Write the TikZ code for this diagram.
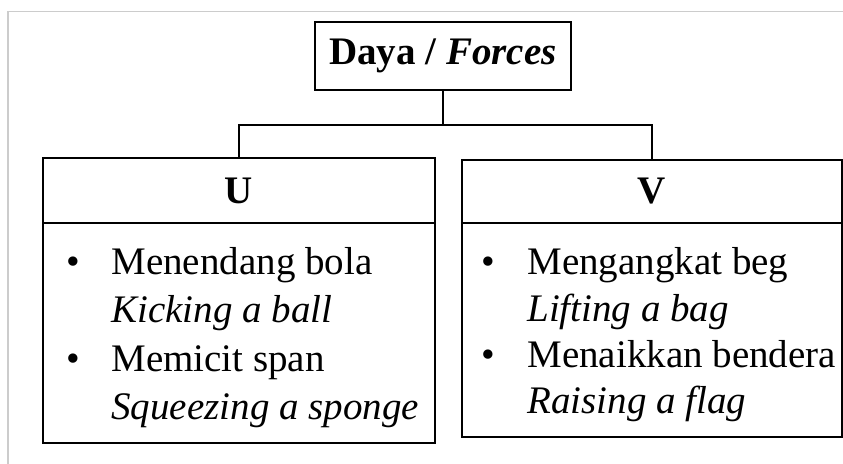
\documentclass[tikz,border=0pt]{standalone}
\usepackage{fontspec}
\setmainfont{Liberation Serif}
\usetikzlibrary{positioning}

\tikzset{
  box/.style={draw, line width=1pt, outer sep=0pt, inner sep=0pt},
  item/.style={anchor=base west, inner sep=0pt},
  dot/.style={anchor=base, inner sep=0pt},
  link/.style={line width=0.75pt}
}

\begin{document}
\begin{tikzpicture}[x=0.5pt,y=-0.5pt]
      \fontsize{19.5}{23}\selectfont
      \useasboundingbox (0,0) rectangle (843,464);
      \draw[gray!40, line width=0.5pt] (8,464) -- (8,12) -- (843,12);
      \node[box, minimum width=128pt, minimum height=34pt] (daya) at (443,56) {\textbf{Daya / \textit{Forces}}};
      \node[box, minimum width=196pt, minimum height=32.5pt] (hU) at (239,190.5) {\textbf{U}};
      \node[box, minimum width=190pt, minimum height=31.5pt] (hV) at (652,191.5) {\textbf{V}};
      \node[box, minimum width=196pt, minimum height=110pt, below=0pt of hU] (bU) {};
      \node[box, minimum width=190pt, minimum height=107pt, below=0pt of hV] (bV) {};
      \coordinate (fork) at (443,125);
      \draw[link] (daya) -- (fork);
      \draw[link] (fork) -| (hU);
      \draw[link] (fork) -| (hV);
      % U list
      \node[dot] (u1d) at (73,275) {\textbullet};
      \node[item] (u1) at (111,275) {Menendang bola};
      \node[item] (u1e) at (111,323) {\textit{Kicking a ball}};
      \node[dot] (u2d) at (73,372) {\textbullet};
      \node[item] (u2) at (111,372) {Memicit span};
      \node[item] (u2e) at (111,420) {\textit{Squeezing a sponge}};
      % V list
      \node[dot] (v1d) at (488,275) {\textbullet};
      \node[item] (v1) at (527,275) {Mengangkat beg};
      \node[item] (v1e) at (527,322) {\textit{Lifting a bag}};
      \node[dot] (v2d) at (488,368) {\textbullet};
      \node[item] (v2) at (527,368) {Menaikkan bendera};
      \node[item] (v2e) at (527,414) {\textit{Raising a flag}};
    \end{tikzpicture}
\end{document}
